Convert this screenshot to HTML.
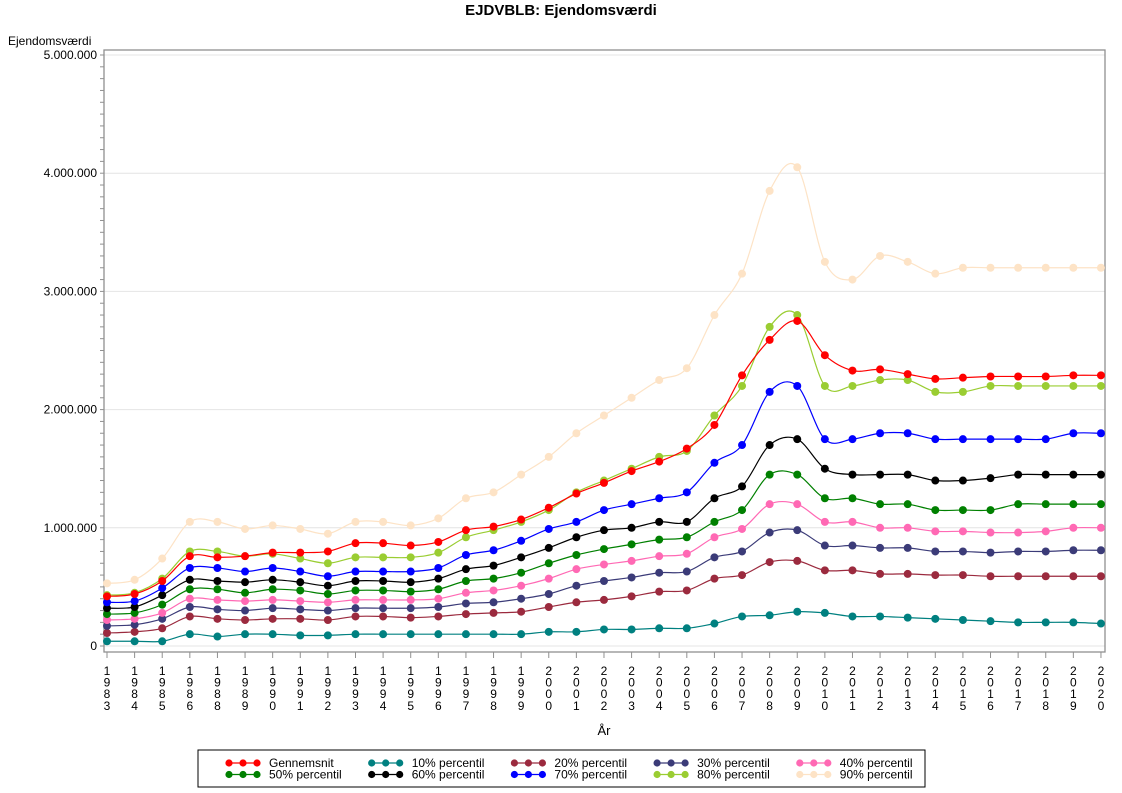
<!DOCTYPE html>
<html><head><meta charset="utf-8"><style>
body{margin:0;background:#fff;}
svg{display:block;font-family:"Liberation Sans",Arial,sans-serif;}
</style></head><body>
<svg id="s" width="1122" height="793" viewBox="0 0 1122 793" xmlns="http://www.w3.org/2000/svg">
<text x="561" y="15" text-anchor="middle" font-size="15" font-weight="bold">EJDVBLB: Ejendomsværdi</text>
<text x="8" y="45" font-size="12">Ejendomsværdi</text>
<text x="604" y="735" font-size="13" text-anchor="middle">År</text>
<g id="grid"></g>
<rect x="104" y="50" width="1001" height="602" fill="none" stroke="#909090" stroke-width="1.3"/>
<g id="ax" font-size="12" fill="#000"></g>
<g id="ser"></g>
<rect x="198" y="750" width="727" height="37" fill="#fff" stroke="#000" stroke-width="1"/>
<g id="leg" font-size="12"></g>
</svg>
<script>
const NS="http://www.w3.org/2000/svg";
function el(p,t,a,txt){const e=document.createElementNS(NS,t);for(const k in a)e.setAttribute(k,a[k]);if(txt!==undefined)e.textContent=txt;p.appendChild(e);return e;}
const Y=v=>646-v*118.2, X=i=>107+i*27.61;
const grid=document.getElementById('grid'),ax=document.getElementById('ax');
const labs=["0","1.000.000","2.000.000","3.000.000","4.000.000","5.000.000"];
for(let k=0;k<=5;k++){el(grid,'line',{x1:104,x2:1105,y1:Y(k),y2:Y(k),stroke:'#e4e4e4','stroke-width':1});
 el(ax,'text',{x:97,y:Y(k)+4,'text-anchor':'end'},labs[k]);}
for(let k=0;k<=50;k++){const y=Y(k/10);el(ax,'line',{x1:100,x2:104,y1:y,y2:y,stroke:'#909090'});}
const yrs=[1983,1984,1985,1986];for(let y=1988;y<=2020;y++)yrs.push(y);
yrs.forEach((yr,i)=>{const x=X(i);el(ax,'line',{x1:x,x2:x,y1:652,y2:658,stroke:'#909090'});
 String(yr).split('').forEach((d,j)=>el(ax,'text',{x:x,y:675+j*11.6,'text-anchor':'middle'},d));});
const S=[
["#fde3c6","90% percentil",[0.53,0.56,0.74,1.05,1.05,0.99,1.02,0.99,0.95,1.05,1.05,1.02,1.08,1.25,1.30,1.45,1.60,1.80,1.95,2.10,2.25,2.35,2.80,3.15,3.85,4.05,3.25,3.10,3.30,3.25,3.15,3.20,3.20,3.20,3.20,3.20,3.20]],
["#008080","10% percentil",[0.04,0.04,0.04,0.10,0.08,0.10,0.10,0.09,0.09,0.10,0.10,0.10,0.10,0.10,0.10,0.10,0.12,0.12,0.14,0.14,0.15,0.15,0.19,0.25,0.26,0.29,0.28,0.25,0.25,0.24,0.23,0.22,0.21,0.20,0.20,0.20,0.19]],
["#9b2a3e","20% percentil",[0.11,0.12,0.15,0.25,0.23,0.22,0.23,0.23,0.22,0.25,0.25,0.24,0.25,0.27,0.28,0.29,0.33,0.37,0.39,0.42,0.46,0.47,0.57,0.60,0.71,0.72,0.64,0.64,0.61,0.61,0.60,0.60,0.59,0.59,0.59,0.59,0.59]],
["#3b3b78","30% percentil",[0.17,0.18,0.23,0.33,0.31,0.30,0.32,0.31,0.30,0.32,0.32,0.32,0.33,0.36,0.37,0.40,0.44,0.51,0.55,0.58,0.62,0.63,0.75,0.80,0.96,0.98,0.85,0.85,0.83,0.83,0.80,0.80,0.79,0.80,0.80,0.81,0.81]],
["#ff69b4","40% percentil",[0.22,0.23,0.28,0.40,0.39,0.38,0.39,0.38,0.37,0.39,0.39,0.39,0.40,0.45,0.47,0.51,0.57,0.65,0.69,0.72,0.76,0.78,0.92,0.99,1.20,1.20,1.05,1.05,1.00,1.00,0.97,0.97,0.96,0.96,0.97,1.00,1.00]],
["#008000","50% percentil",[0.27,0.28,0.35,0.48,0.48,0.45,0.48,0.47,0.44,0.47,0.47,0.46,0.48,0.55,0.57,0.62,0.70,0.77,0.82,0.86,0.90,0.92,1.05,1.15,1.45,1.45,1.25,1.25,1.20,1.20,1.15,1.15,1.15,1.20,1.20,1.20,1.20]],
["#000000","60% percentil",[0.32,0.33,0.43,0.56,0.55,0.54,0.56,0.54,0.51,0.55,0.55,0.54,0.57,0.65,0.68,0.75,0.83,0.92,0.98,1.00,1.05,1.05,1.25,1.35,1.70,1.75,1.50,1.45,1.45,1.45,1.40,1.40,1.42,1.45,1.45,1.45,1.45]],
["#0000ff","70% percentil",[0.37,0.38,0.49,0.66,0.66,0.63,0.66,0.63,0.59,0.63,0.63,0.63,0.66,0.77,0.81,0.89,0.99,1.05,1.15,1.20,1.25,1.30,1.55,1.70,2.15,2.20,1.75,1.75,1.80,1.80,1.75,1.75,1.75,1.75,1.75,1.80,1.80]],
["#9acd32","80% percentil",[0.43,0.45,0.57,0.80,0.80,0.76,0.78,0.74,0.70,0.75,0.75,0.75,0.79,0.92,0.98,1.05,1.15,1.30,1.40,1.50,1.60,1.65,1.95,2.20,2.70,2.80,2.20,2.20,2.25,2.25,2.15,2.15,2.20,2.20,2.20,2.20,2.20]],
["#ff0000","Gennemsnit",[0.42,0.44,0.55,0.76,0.75,0.76,0.79,0.79,0.80,0.87,0.87,0.85,0.88,0.98,1.01,1.07,1.17,1.29,1.38,1.48,1.56,1.67,1.87,2.29,2.59,2.75,2.46,2.33,2.34,2.30,2.26,2.27,2.28,2.28,2.28,2.29,2.29]]
];
const ser=document.getElementById('ser');
S.forEach(([c,n,d])=>{const p=d.map((v,i)=>[X(i),Y(v)]);let s=`M${p[0][0]},${p[0][1]}`;
 for(let i=0;i<p.length-1;i++){const p0=p[i-1]||p[i],p1=p[i],p2=p[i+1],p3=p[i+2]||p2;
  s+=` C${p1[0]+(p2[0]-p0[0])/6},${p1[1]+(p2[1]-p0[1])/6} ${p2[0]-(p3[0]-p1[0])/6},${p2[1]-(p3[1]-p1[1])/6} ${p2[0]},${p2[1]}`;}
 el(ser,'path',{d:s,fill:'none',stroke:c,'stroke-width':1.2});
 p.forEach(q=>el(ser,'circle',{cx:q[0],cy:q[1],r:4,fill:c}));});
const order=["Gennemsnit","10% percentil","20% percentil","30% percentil","40% percentil","50% percentil","60% percentil","70% percentil","80% percentil","90% percentil"];
const leg=document.getElementById('leg');
order.forEach((n,k)=>{const c=S.find(s=>s[1]===n)[0];const col=k%5,row=Math.floor(k/5);
 const x=229+col*142.7,y=763+row*11.5;
 el(leg,'line',{x1:x,x2:x+28,y1:y,y2:y,stroke:c,'stroke-width':1.2});
 [0,14,28].forEach(o=>el(leg,'circle',{cx:x+o,cy:y,r:3.6,fill:c}));
 el(leg,'text',{x:x+40,y:y+4},n);});
</script>
</body></html>
